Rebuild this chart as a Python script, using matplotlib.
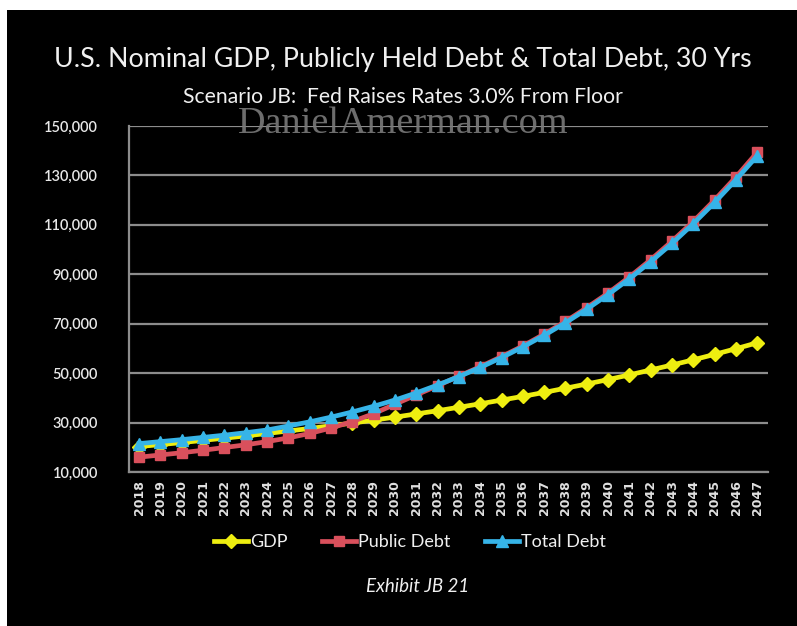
import matplotlib
matplotlib.use("Agg")
import matplotlib.pyplot as plt
from matplotlib.patches import Rectangle
from matplotlib.ticker import FuncFormatter
from matplotlib.lines import Line2D

# ---- data (billions of dollars) ----
years = list(range(2018, 2048))
gdp = [20.3, 21.1, 21.9, 22.8, 23.7, 24.6, 25.6, 26.6, 27.6, 28.7,
       29.8, 31.0, 32.2, 33.5, 34.8, 36.2, 37.6, 39.1, 40.6, 42.2,
       43.9, 45.6, 47.4, 49.3, 51.3, 53.3, 55.4, 57.6, 59.9, 62.3]
public_debt = [16.0, 16.9, 17.8, 18.8, 19.9, 21.0, 22.3, 23.8, 25.6, 27.8,
               30.4, 33.6, 37.4, 41.2, 44.9, 48.8, 52.6, 56.7, 61.0, 65.8,
               70.9, 76.5, 82.4, 88.9, 95.9, 103.4, 111.4, 120.1, 129.4, 139.4]
total_debt = [21.5, 22.3, 23.1, 24.0, 24.9, 25.9, 27.0, 28.6, 30.3, 32.2,
              34.3, 36.6, 39.1, 42.0, 45.2, 48.6, 52.3, 56.3, 60.6, 65.3,
              70.4, 75.9, 81.8, 88.2, 95.1, 102.5, 110.5, 119.1, 128.3, 138.0]
series_names = ["GDP", "Public Debt", "Total Debt"]
y_ticks = [10000, 30000, 50000, 70000, 90000, 110000, 130000, 150000]

W, H = 797, 626
fig = plt.figure(figsize=(W / 100, H / 100), dpi=100)
fig.patch.set_facecolor("white")
fig.patches.append(Rectangle((7 / W, 0), 1, 1 - 10 / H, transform=fig.transFigure,
                             facecolor="black", edgecolor="none", zorder=-10))

def fx(px):
    return px / W

def fy(py):
    return 1 - py / H

ax = fig.add_axes([fx(128.5), fy(472), fx(768) - fx(128.5), (472 - 126) / H])
ax.set_facecolor("black")

x = list(range(len(years)))
gdp_v = [v * 1000 for v in gdp]
pub_v = [v * 1000 for v in public_debt]
tot_v = [v * 1000 for v in total_debt]

c_gdp = "#eeee10"
c_pub = "#d9505c"
c_tot = "#36b4e8"

ax.plot(x, gdp_v, color=c_gdp, lw=3.4, marker="D", ms=7, mec=c_gdp, mfc=c_gdp, zorder=3)
ax.plot(x, pub_v, color=c_pub, lw=3.4, marker="s", ms=7, mec=c_pub, mfc=c_pub, zorder=4)
ax.plot(x, tot_v, color=c_tot, lw=3.4, marker="^", ms=8, mec=c_tot, mfc=c_tot, zorder=5)

ax.set_xlim(-0.5, len(years) - 0.5)
ax.set_ylim(10000, 150000)
ax.set_yticks(y_ticks)
ax.yaxis.set_major_formatter(FuncFormatter(lambda v, p: f"{int(v):,}"))
ax.set_xticks(x)
ax.set_xticklabels([str(y) for y in years], rotation=90, fontsize=9,
                   fontweight="bold", color="#e0e0e0", family="DejaVu Sans")
for lab in ax.get_yticklabels():
    lab.set_family("Lato")
    lab.set_fontsize(10.5)
    lab.set_fontweight("semibold")
    lab.set_color("#e8e8e8")
ax.tick_params(axis="both", length=0)
ax.tick_params(axis="y", pad=22)
ax.tick_params(axis="x", pad=6)

ax.grid(axis="y", color="#8c8c8c", lw=1.6, zorder=1)
ax.set_axisbelow(True)
for s in ["top", "right"]:
    ax.spines[s].set_visible(False)
for s in ["left", "bottom"]:
    ax.spines[s].set_color("#8c8c8c")
    ax.spines[s].set_linewidth(1.6)

# titles
fig.text(fx(402.5), fy(60), "U.S. Nominal GDP, Publicly Held Debt & Total Debt, 30 Yrs",
         ha="center", va="center", color="#f0f0f0", fontsize=19.3, family="Lato")
fig.text(fx(402.5), fy(97), "Scenario JB:  Fed Raises Rates 3.0% From Floor",
         ha="center", va="center", color="#f0f0f0", fontsize=15.2, family="Lato")
fig.text(fx(403), fy(124), "DanielAmerman.com", ha="center", va="center",
         color="#7a7a7a", fontsize=27.5, family="Liberation Serif", zorder=20, alpha=0.9)
fig.text(fx(418), fy(587), "Exhibit JB 21", ha="center", va="center",
         color="#f0f0f0", fontsize=13.5, family="Lato", style="italic")

# legend
handles = [
    Line2D([], [], color=c_gdp, lw=3.4, marker="D", ms=7),
    Line2D([], [], color=c_pub, lw=3.4, marker="s", ms=7),
    Line2D([], [], color=c_tot, lw=3.4, marker="^", ms=8),
]
leg = fig.legend(handles, series_names, loc="center", bbox_to_anchor=(fx(410), fy(542)),
                 ncol=3, frameon=False, handlelength=1.9, handletextpad=0.1,
                 columnspacing=1.9, prop={"family": "Lato", "size": 13})
for t in leg.get_texts():
    t.set_color("#f0f0f0")

fig.savefig("out.png", dpi=100, facecolor=fig.get_facecolor())
